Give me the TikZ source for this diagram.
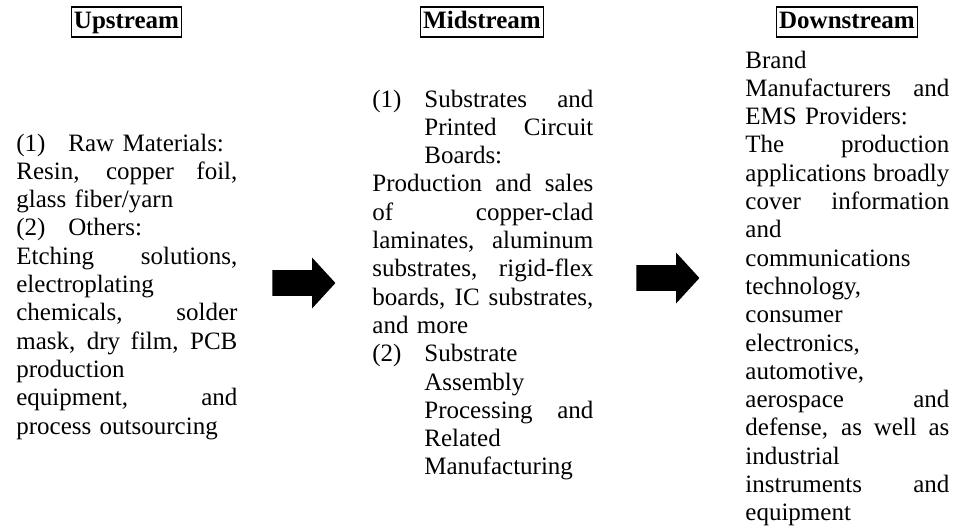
\documentclass[tikz,border=0pt]{standalone}
\usepackage{fontspec}
\setmainfont{Liberation Serif}
\usetikzlibrary{shapes.arrows}
\newlength{\colw}
\newcommand{\just}[1]{\leavevmode\hbox to\colw{\spaceskip=.25em plus 1fil\relax#1}}
\newcommand{\lbl}[1]{\makebox[26pt][l]{#1}}
\newcommand{\ijust}[1]{\hspace*{26pt}\hbox to\dimexpr\colw-26pt\relax{\spaceskip=.25em plus 1fil\relax#1}}
\begin{document}
\begin{tikzpicture}[x=0.5pt,y=-0.5pt,
  hdr/.style={draw,line width=0.6pt,inner xsep=1.2pt,inner ysep=1.9pt,
              text height=8.6pt,text depth=2.6pt,
              font=\fontsize{12.5pt}{14.15pt}\selectfont\bfseries},
  col/.style={anchor=base west,inner sep=0pt,align=left,text width=#1,
              execute at begin node={\setlength{\colw}{#1}},
              font=\fontsize{12.5pt}{14.15pt}\selectfont},
  arr/.style={single arrow,fill=black,anchor=west,inner xsep=0pt,inner ysep=6.25pt,
              minimum height=31.5pt,single arrow head extend=6.25pt,
              single arrow tip angle=95}]
\useasboundingbox (0,0) rectangle (957,531);
\node (up)   [hdr] at (126.5,22) {Upstream};
\node (mid)  [hdr] at (482,22)   {Midstream};
\node (down) [hdr] at (847,22)   {Downstream};
\node (uptxt) [col=110.5pt] at (16,151)
  {\lbl{(1)}Raw Materials:\\
   \just{Resin, copper foil,}\\
   glass fiber/yarn\\
   \lbl{(2)}Others:\\
   \just{Etching solutions,}\\
   electroplating\\
   \just{chemicals, solder}\\
   \just{mask, dry film, PCB}\\
   production\\
   \just{equipment, and}\\
   process outsourcing};
\node (midtxt) [col=110.5pt] at (372,107)
  {\lbl{(1)}\hbox to\dimexpr\colw-26pt\relax{Substrates\hfill and}\\
   \ijust{Printed Circuit}\\
   \hspace*{26pt}Boards:\\
   \just{Production and sales}\\
   \just{of copper-clad}\\
   \just{laminates, aluminum}\\
   \just{substrates, rigid-flex}\\
   \just{boards, IC substrates,}\\
   and more\\
   \lbl{(2)}Substrate\\
   \hspace*{26pt}Assembly\\
   \ijust{Processing and}\\
   \hspace*{26pt}Related\\
   \hspace*{26pt}Manufacturing};
\node (downtxt) [col=102pt] at (745,68)
  {Brand\\
   \just{Manufacturers and}\\
   EMS Providers:\\
   \just{The production}\\
   \just{applications broadly}\\
   \just{cover information}\\
   and\\
   communications\\
   technology,\\
   consumer\\
   electronics,\\
   automotive,\\
   \just{aerospace and}\\
   \just{defense, as well as}\\
   industrial\\
   \just{instruments and}\\
   equipment};
\node (arrup)   [arr] at (272,283) {};
\node (arrdown) [arr] at (636,278) {};
\end{tikzpicture}
\end{document}
